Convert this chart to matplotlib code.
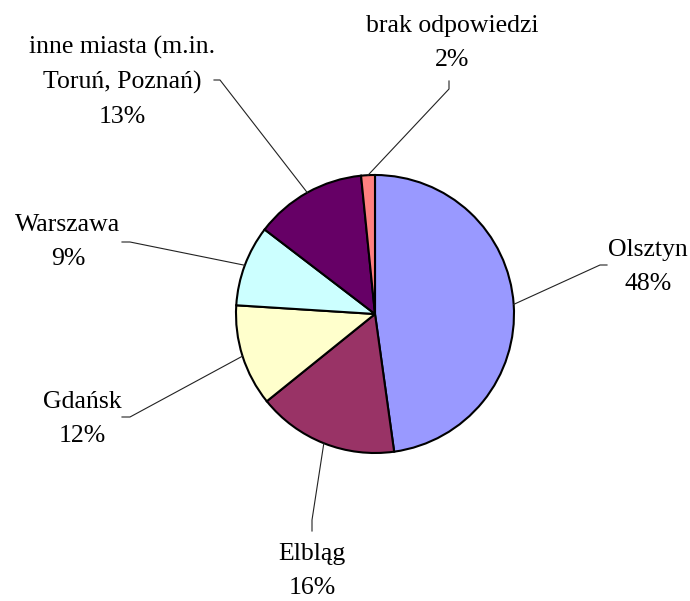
import matplotlib.pyplot as plt
import numpy as np

# dane z wykresu (udzialy w procentach)
miasta = ["Olsztyn", "Elbląg", "Gdańsk", "Warszawa",
          "inne miasta (m.in.\nToruń, Poznań)", "brak odpowiedzi"]
udzialy = [47.8, 16.4, 11.8, 9.4, 13.0, 1.6]
kolory = ["#9999FF", "#993366", "#FFFFCC", "#CCFFFF", "#660066", "#FF8080"]

W, H = 690, 601

def px(x, y):
    # zamiana wspolrzednych obrazka (y w dol) na wspolrzedne osi
    return x, H - y

# pozycje etykiet i zalaman linii (w pikselach obrazka)
etykiety_xy = [(648, 267), (312, 571), (82, 419), (68, 242), (122, 82), (452, 43)]
lamanie = [
    [(600, 265), (607, 265)],
    [(312, 520), (312, 531)],
    [(130, 417), (122, 417)],
    [(130, 242), (122, 242)],
    [(220, 80), (214, 80)],
    [(449, 89), (449, 81)],
]

plt.rcParams['font.family'] = ['Liberation Serif', 'DejaVu Serif']

fig = plt.figure(figsize=(W / 100, H / 100), dpi=100)
ax = fig.add_axes([0, 0, 1, 1])

cx, cy = px(375, 314)
r = 139
wedges, _ = ax.pie(udzialy, colors=kolory, startangle=90, counterclock=False,
                   center=(cx, cy), radius=r,
                   wedgeprops=dict(edgecolor="black", linewidth=1.5))

ax.set_xlim(0, W)
ax.set_ylim(0, H)
ax.set_aspect('auto')
ax.axis('off')

for w, nazwa, v, (lx, ly), lam in zip(wedges, miasta, udzialy, etykiety_xy, lamanie):
    kat = np.deg2rad((w.theta1 + w.theta2) / 2)
    x0 = cx + r * np.cos(kat)
    y0 = cy + r * np.sin(kat)
    pts = [(x0, y0)] + [px(*p) for p in lam]
    xs, ys = zip(*pts)
    ax.plot(xs, ys, color="#222222", linewidth=0.8)
    tx, ty = px(lx, ly)
    ax.text(tx, ty, f"{nazwa}\n{round(v)}%", ha="center", va="center",
            fontsize=18.5, linespacing=1.7, color="black")

fig.savefig("out.png", dpi=100)
